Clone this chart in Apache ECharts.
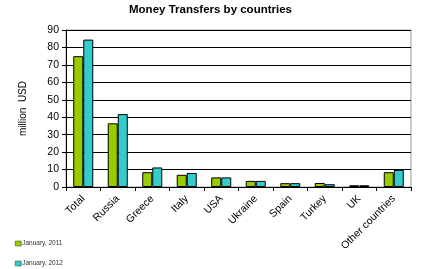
<!DOCTYPE html>
<html><head><meta charset="utf-8">
<script src="https://cdn.jsdelivr.net/npm/echarts@6/dist/echarts.min.js"></script>
<style>html,body{margin:0;padding:0;background:#fff}#c{width:421px;height:269px}</style>
</head><body><div id="c"></div>
<script>
const categories = ['Total','Russia','Greece','Italy','USA','Ukraine','Spain','Turkey','UK','Other countries'];
const jan2011 = [75, 36.5, 8.5, 7, 5.5, 3.5, 2.2, 2.3, 1, 8.5];
const jan2012 = [84.5, 41.8, 11.2, 8, 5.5, 3.5, 2.2, 1.6, 1, 9.8];
const seriesNames = ['January, 2011', 'January, 2012'];
const legendText = { fontSize: 6.5, color: '#333', fontFamily: 'Liberation Sans', padding: [0,0,0,-4] };
const legendIcon = { borderWidth: 0.5, borderColor: '#333' };
const chart = echarts.init(document.getElementById('c'));
chart.setOption({
  animation: false,
  title: { text: 'Money Transfers by countries', left: 'center', top: -1,
    textStyle: { fontFamily: 'Liberation Sans', fontSize: 11.5, fontWeight: 'bold', color: '#000' } },
  legend: [
    { left: 10, top: 235, itemWidth: 6, itemHeight: 5, icon: 'rect', itemStyle: legendIcon, textStyle: legendText, data: [seriesNames[0]] },
    { left: 10, top: 255, itemWidth: 6, itemHeight: 5, icon: 'rect', itemStyle: legendIcon, textStyle: legendText, data: [seriesNames[1]] }
  ],
  grid: { left: 66, right: 10, top: 30, bottom: 82, show: true, borderColor: '#999', borderWidth: 1 },
  xAxis: { type: 'category', data: categories,
    axisLine: { lineStyle: { color: '#000' } },
    axisTick: { show: true, alignWithLabel: false, length: 4, lineStyle: { color: '#000' } },
    axisLabel: { rotate: 45, interval: 0, fontSize: 10.5, color: '#000', fontFamily: 'Liberation Sans', margin: 10 } },
  yAxis: { type: 'value', min: 0, max: 90, interval: 10, name: 'million  USD', nameLocation: 'middle', nameGap: 38,
    nameTextStyle: { fontSize: 10, color: '#000', fontFamily: 'Liberation Sans' },
    axisLine: { show: true, lineStyle: { color: '#000' } },
    axisTick: { show: true, length: 4, lineStyle: { color: '#000' } },
    axisLabel: { fontSize: 10.5, color: '#000', fontFamily: 'Liberation Sans', margin: 7 },
    splitLine: { lineStyle: { color: '#000', width: 1 } } },
  series: [
    { name: seriesNames[0], type: 'bar', data: jan2011, barGap: '0%', barCategoryGap: '42%',
      itemStyle: { color: '#99cc00', borderColor: '#000', borderWidth: 1 } },
    { name: seriesNames[1], type: 'bar', data: jan2012,
      itemStyle: { color: '#33cccc', borderColor: '#000', borderWidth: 1 } }
  ]
});
</script></body></html>
